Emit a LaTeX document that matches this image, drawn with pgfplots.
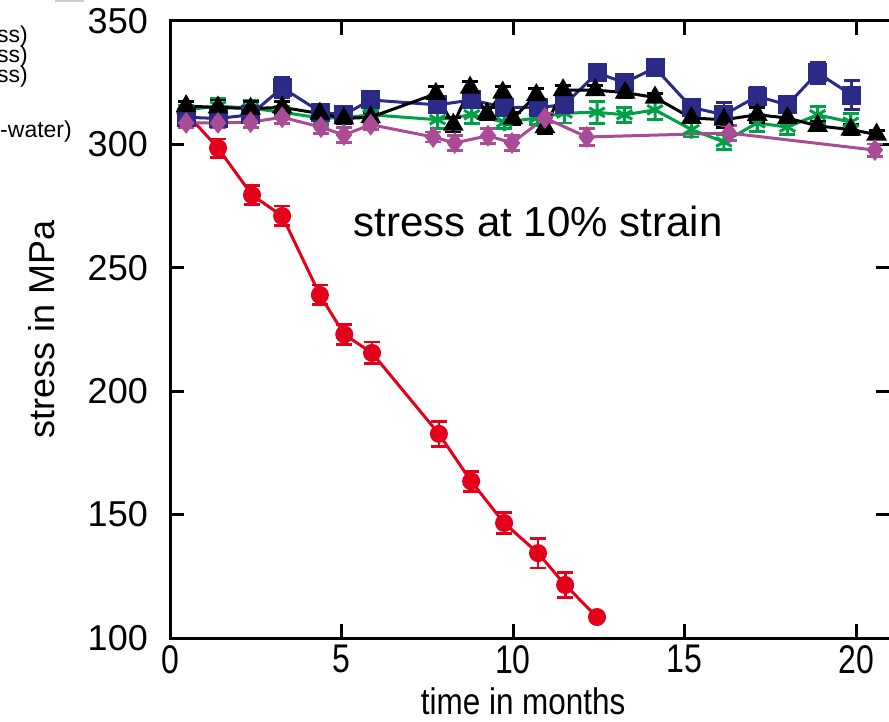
\documentclass[border=0pt]{standalone}
\usepackage{pgfplots}
\pgfplotsset{compat=1.18}
\usepackage{pgfplotstable}
\usepackage{fontspec}
\setmainfont{Liberation Sans}

\definecolor{cred}{RGB}{228,0,27}
\definecolor{cblue}{RGB}{43,42,135}
\definecolor{cgreen}{RGB}{0,160,70}
\definecolor{cmag}{RGB}{170,75,150}

% time (months), stress (MPa), error
\pgfplotstableread{
x y e
0.45 313 0
1.40 298.5 3.7
2.39 279.5 3.7
3.27 271 4
4.37 239 4
5.08 223 4
5.89 215.5 4.4
7.84 182.7 5
8.78 163.5 4
9.74 146.6 4.4
10.73 134.4 6
11.52 121.5 5.2
12.45 108.5 0
}\redd
\pgfplotstableread{
x y e
0.47 314 2
1.40 315.5 3
2.35 314.7 3
3.27 313 2.5
4.40 310.7 2.5
5.07 310.7 2
5.85 312 2
7.80 310 3.5
8.80 312 3.5
9.75 309 2.5
10.70 310.7 2.5
11.50 312.7 4
12.45 313 4.4
13.25 312 3
14.14 314 4
15.20 306 3
16.15 301 3
17.12 308.7 3.5
18.00 307 3
18.88 312 3.5
19.85 309 3.5
}\greend
\pgfplotstableread{
x y e
0.47 311 2
1.40 310.5 3
2.35 312 3
3.27 323 4
4.40 313 3
5.07 312 2.5
5.85 318 2
7.80 316 2
8.80 318 2
9.75 315 3
10.73 315 2
11.50 316 2
12.45 329 3
13.25 325 3.5
14.14 331 1.5
15.20 315 2
16.15 312 5
17.12 319.5 3.4
18.00 316 2
18.88 329 4.4
19.88 320 6
}\blued
\pgfplotstableread{
x y e
0.47 315.5 2
1.40 315 3
2.35 314.5 3
3.27 315 2.5
4.37 312.5 3
5.07 310.5 2
5.85 311 2
7.75 320.5 3
8.26 308 3
8.75 323 2.5
9.24 312.5 2.5
9.70 321 2.5
10.00 310.5 2.5
10.68 320 2.5
10.93 307 2.5
11.46 322 2
12.40 322 2
13.27 321 2
14.14 319 1.5
15.20 310.7 2
16.15 310 3
17.12 312 3
18.00 310.7 2
18.88 307.5 2
19.85 306 2
20.60 304 1.5
}\blackd
\pgfplotstableread{
x y e
0.47 308.7 2
1.40 308.7 2
2.35 309 2
3.27 311 2.5
4.40 307 2.5
5.07 303.8 3
5.85 308 2
7.67 303 2
8.30 300.6 3
9.27 303.5 3
9.97 300.6 3
10.93 310.7 2
12.15 303 3.5
16.30 304.6 3
20.55 297.7 2.5
}\magd

\begin{document}
\begin{tikzpicture}
\begin{axis}[
    at={(170pt,83pt)}, anchor=south west,
    x=34.3pt, y=2.468pt,
    xmin=0, xmax=21, ymin=100, ymax=350,
    xtick={0,5,10,15,20},
    ytick={100,150,200,250,300,350},
    separate axis lines,
    axis line style={line width=3pt, line cap=rect},
    tick align=inside,
    major tick length=14pt,
    major tick style={black, line width=3pt},
    /pgf/number format/assume math mode=true,
    yticklabel style={font=\fontsize{36}{40}\selectfont, anchor=east, inner sep=0pt, xshift=-22pt},
    xticklabel style={font=\fontsize{40}{44}\selectfont, anchor=north, inner sep=0pt, yshift=-7pt},
    xticklabel={\scalebox{0.8}[1]{\pgfmathprintnumber{\tick}}},
    xlabel={\scalebox{0.85}[1]{time in months}},
    xlabel style={font=\fontsize{37}{40}\selectfont, at={(rel axis cs:0.5,0)}, anchor=center, xshift=-7pt, yshift=-63pt},
    ylabel={stress in MPa},
    ylabel style={font=\fontsize{36}{40}\selectfont, at={(rel axis cs:0,0.5)}, anchor=center, yshift=128pt},
    error bars/y dir=both,
    error bars/y explicit,
    error bars/error bar style={line width=2.8pt},
    error bars/error mark options={rotate=90, mark size=8pt, line width=2.8pt},
]
\addplot[cred, line width=3pt, mark=*, mark size=7.5pt,
    error bars/error bar style={cred, line width=2.8pt}]
    table[x=x, y=y, y error=e] {\redd};
\addplot[cgreen, line width=3pt, mark=asterisk, mark size=9pt,
    mark options={line width=3pt}]
    table[x=x, y=y, y error=e] {\greend};
\addplot[cblue, line width=3pt, mark=square*, mark size=8pt]
    table[x=x, y=y, y error=e] {\blued};
\addplot[black, line width=3pt, mark=triangle*, mark size=9pt]
    table[x=x, y=y, y error=e] {\blackd};
\addplot[cmag, line width=3pt, mark=diamond*, mark size=8.5pt]
    table[x=x, y=y, y error=e] {\magd};
\node[font=\fontsize{42}{46}\selectfont] at (axis cs:10.73,268.6) {stress at 10\% strain};
\end{axis}
% legend fragments at the cut-off left edge
\node[anchor=east, inner sep=0pt, font=\fontsize{23}{26}\selectfont] at (28pt,684pt) {ss)};
\node[anchor=east, inner sep=0pt, font=\fontsize{23}{26}\selectfont] at (28pt,664pt) {ss)};
\node[anchor=east, inner sep=0pt, font=\fontsize{23}{26}\selectfont] at (28pt,644pt) {ss)};
\node[anchor=east, inner sep=0pt, font=\fontsize{23}{26}\selectfont] at (72pt,589pt) {-water)};
\fill[gray!40] (55pt,719pt) rectangle (84pt,721pt);
\pgfresetboundingbox
\useasboundingbox (0,0) rectangle (889pt,721pt);
\end{tikzpicture}
\end{document}
